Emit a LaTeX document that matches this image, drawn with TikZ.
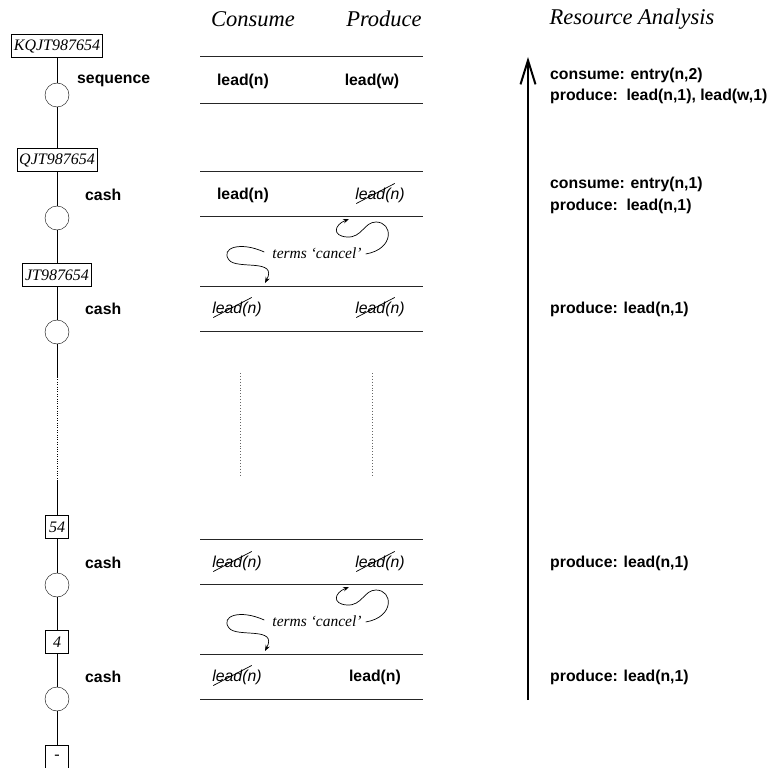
\documentclass[tikz,border=0pt]{standalone}
\usepackage{fontspec}
\setmainfont{Liberation Serif}
\setsansfont{Liberation Sans}
\usetikzlibrary{arrows.meta,positioning}
\tikzset{
  stackbox/.style={draw, font=\itshape\fontsize{16}{18}\selectfont, inner xsep=2.5pt,
    inner ysep=2pt, minimum height=23pt, minimum width=23pt},
  rulenode/.style={draw, circle, minimum size=24pt, inner sep=0pt},
  tag/.style={font=\sffamily\bfseries\fontsize{15.8}{19}\selectfont, inner sep=0pt},
  gone/.style={font=\sffamily\itshape\fontsize{15.8}{19}\selectfont, inner sep=0pt},
  head/.style={font=\itshape\fontsize{22.5}{26}\selectfont, inner sep=0pt},
  note/.style={font=\itshape\fontsize{15.5}{18}\selectfont, inner sep=0pt},
  sepline/.style={draw=black!85, line width=0.9pt},
  strike/.style={line width=0.7pt},
  squiggle/.style={-{Stealth[length=6pt,width=4.5pt]}, line width=0.7pt},
  timeline/.style={-{Straight Barb[length=24pt,width=15pt]}, line width=2pt}
}
\begin{document}
\begin{tikzpicture}[x=1pt,y=-1pt]
  \useasboundingbox (0,0) rectangle (772,768);

  % column headings
  \node[head] (hcons) at (253,19) {Consume};
  \node[head] (hprod) at (384,19) {Produce};
  \node[head] (hres) at (632,19) {Resource Analysis};

  % stack of cards down the left
  \node[stackbox] (k1) at (57,46) {KQJT987654};
  \node[rulenode] (o1) at (57,95) {};
  \node[stackbox] (k2) at (57,160) {QJT987654};
  \node[rulenode] (o2) at (57,218) {};
  \node[stackbox] (k3) at (57,275) {JT987654};
  \node[rulenode] (o3) at (57,332) {};
  \coordinate (d1) at (57,377);
  \coordinate (d2) at (57,480);
  \node[stackbox] (k4) at (57,527) {54};
  \node[rulenode] (o4) at (57,585) {};
  \node[stackbox] (k5) at (57,642) {4};
  \node[rulenode] (o5) at (57,699) {};
  \node[stackbox] (k6) at (57,757) {-};
  \draw (k1) -- (o1) -- (k2) -- (o2) -- (k3) -- (o3) -- (d1);
  \draw[dotted] (d1) -- (d2);
  \draw (d2) -- (k4) -- (o4) -- (k5) -- (o5) -- (k6);

  % rule names
  \node[tag, anchor=west] (n1) at (77,81) {sequence};
  \node[tag, anchor=west] (n2) at (85,195) {cash};
  \node[tag, anchor=west] (n3) at (85,309) {cash};
  \node[tag, anchor=west] (n4) at (85,563) {cash};
  \node[tag, anchor=west] (n5) at (85,677) {cash};

  % consume / produce table
  \foreach \y in {56,103,171,216,286,331,539,584,654,699}
    \draw[sepline] (200,\y) -- (423,\y);
  \draw[dotted, line width=0.9pt, black!60] (240,373) -- (240,476);
  \draw[dotted, line width=0.9pt, black!60] (372,373) -- (372,476);

  \node[tag] (c1) at (243,81) {lead(n)};
  \node[tag] (p1) at (372,81) {lead(w)};
  \node[tag] (c2) at (243,195) {lead(n)};
  \node[gone] (p2) at (380,195) {lead(n)};
  \node[gone] (c3) at (237,309) {lead(n)};
  \node[gone] (p3) at (380,309) {lead(n)};
  \node[gone] (c4) at (237,563) {lead(n)};
  \node[gone] (p4) at (380,563) {lead(n)};
  \node[gone] (c5) at (237,677) {lead(n)};
  \node[tag] (p5) at (375,677) {lead(n)};
  \foreach \n in {p2,c3,p3,c4,p4,c5}
    \draw[strike] ([xshift=1pt,yshift=-1pt]\n.south west) -- ([xshift=-10pt,yshift=4pt]\n.north east);

  % cancelling terms
  \foreach \i/\dy in {1/0,2/368}{
    \node[note] (t\i) at (317,253+\dy) {terms `cancel'};
    \coordinate (dn\i) at (265,283+\dy);
    \coordinate (up\i) at (349,219+\dy);
    \draw[squiggle] ([xshift=-8pt,yshift=1pt]t\i.west) .. controls (240,241+\dy) and (220,248+\dy) .. (229,260+\dy)
      .. controls (237,270+\dy) and (278,258+\dy) .. (dn\i);
    \draw[squiggle] ([xshift=4pt,yshift=-1pt]t\i.east) .. controls (395,249+\dy) and (393,222+\dy) .. (376,222+\dy)
      .. controls (364,222+\dy) and (362,238+\dy) .. (347,237+\dy)
      .. controls (332,236+\dy) and (334,225+\dy) .. (up\i);
  }

  % resource analysis
  \coordinate (base) at (528,700);
  \coordinate (tip) at (528,57);
  \draw[timeline] (base) -- (tip);
  \node[tag, anchor=west] (r1) at (550,75) {consume: entry(n,2)};
  \node[tag, anchor=west] (r2) at (550,96) {produce:\ \ lead(n,1), lead(w,1)};
  \node[tag, anchor=west] (r3) at (550,184) {consume: entry(n,1)};
  \node[tag, anchor=west] (r4) at (550,206) {produce:\ \ lead(n,1)};
  \node[tag, anchor=west] (r5) at (550,309) {produce: lead(n,1)};
  \node[tag, anchor=west] (r6) at (550,563) {produce: lead(n,1)};
  \node[tag, anchor=west] (r7) at (550,677) {produce: lead(n,1)};
\end{tikzpicture}
\end{document}
